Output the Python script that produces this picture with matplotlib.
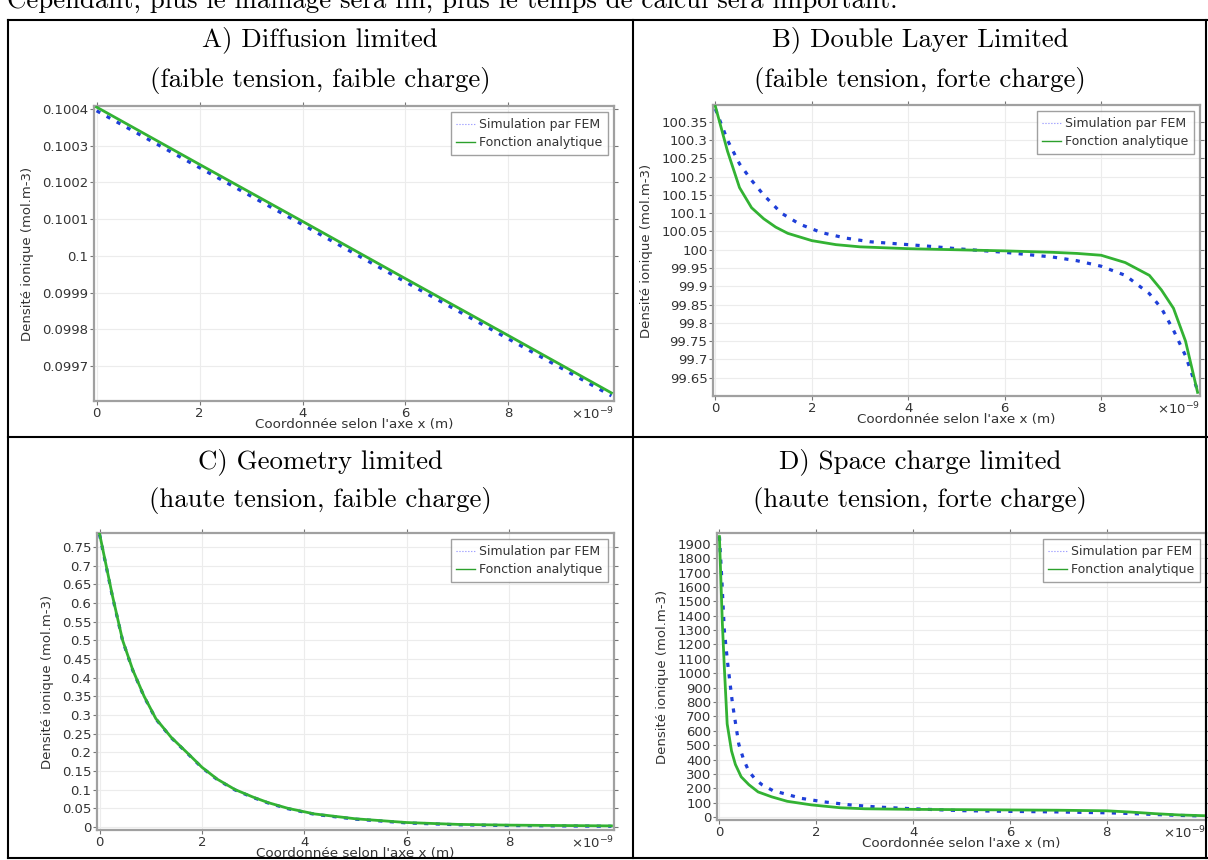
import numpy as np
import matplotlib
matplotlib.use("Agg")
from matplotlib import pyplot as plt
from matplotlib.lines import Line2D

# x in nm (axis shows x10^-9 m)
a_x = [0, 2, 4, 6, 8, 10]
a_sim = [0.100395, 0.100240, 0.100085, 0.099929, 0.099774, 0.099619]
a_ana = [0.100405, 0.100249, 0.100094, 0.099938, 0.099783, 0.099627]

b_x_sim = [0, 0.25, 0.5, 0.75, 1.0, 1.37, 1.75, 2.2, 2.7, 3.2, 4.4, 5, 6, 7, 7.5, 8, 8.5, 9, 9.25, 9.5, 9.75, 10]
b_sim = [100.385, 100.30, 100.235, 100.19, 100.15, 100.10, 100.07, 100.047, 100.032, 100.022, 100.01, 100.003,
         99.993, 99.98, 99.97, 99.955, 99.93, 99.88, 99.84, 99.78, 99.71, 99.615]
b_x_ana = [0, 0.25, 0.5, 0.75, 1.0, 1.25, 1.5, 2.0, 2.5, 3.0, 4, 5, 6, 7, 7.5, 8, 8.5, 9.0, 9.25, 9.5, 9.75, 10]
b_ana = [100.392, 100.27, 100.17, 100.115, 100.085, 100.062, 100.045, 100.025, 100.014, 100.008, 100.003, 100.0,
         99.997, 99.993, 99.99, 99.985, 99.965, 99.93, 99.89, 99.84, 99.75, 99.61]

c_x = [0, 0.25, 0.45, 0.65, 0.87, 1.1, 1.4, 1.74, 2.0, 2.3, 2.65, 3.0, 3.3, 3.68, 4.2, 5, 6, 7, 8, 9, 10]
c_sim = [0.783, 0.618, 0.499, 0.419, 0.349, 0.289, 0.239, 0.194, 0.159, 0.127, 0.099, 0.079, 0.064, 0.049,
         0.034, 0.021, 0.011, 0.006, 0.004, 0.003, 0.002]
c_ana = [0.785, 0.62, 0.5, 0.42, 0.35, 0.29, 0.24, 0.195, 0.16, 0.128, 0.1, 0.08, 0.065, 0.05,
         0.035, 0.022, 0.012, 0.007, 0.005, 0.004, 0.003]

d_x_sim = [0, 0.05, 0.1, 0.17, 0.27, 0.4, 0.5, 0.61, 0.75, 0.88, 1.1, 1.35, 1.7, 2.16, 2.7, 3.27, 4, 5, 6, 7, 8,
           8.5, 9, 9.5, 10]
d_sim = [1950, 1650, 1303, 1070, 789, 507, 400, 317, 260, 225, 185, 162, 130, 106, 85, 70, 58, 45, 40, 36, 30,
         25, 18, 12, 8]
d_x_ana = [0, 0.06, 0.1, 0.16, 0.25, 0.33, 0.45, 0.61, 0.8, 1.08, 1.4, 1.9, 2.5, 3, 4, 5, 6, 7, 8, 8.5, 9, 9.5, 10]
d_ana = [1950, 1352, 1050, 648, 460, 366, 280, 225, 175, 141, 110, 85, 65, 58, 54, 52, 50, 48, 44, 35, 24, 15, 10]

x_ticks = [0, 2, 4, 6, 8]
titles = [("A) Diffusion limited", "(faible tension, faible charge)"),
          ("B) Double Layer Limited", "(faible tension, forte charge)"),
          ("C) Geometry limited", "(haute tension, faible charge)"),
          ("D) Space charge limited", "(haute tension, forte charge)")]
top_line = "Cependant, plus le maillage sera fin, plus le temps de calcul sera important."

W, H = 1208, 860
BLUE = '#1f3fd8'
GREEN = '#33b233'
FRAME = '#a0a0a0'
TXT = '#333333'


def px_axes(fig, left, top, right, bottom):
    return fig.add_axes([left / W, 1 - bottom / H, (right - left) / W, (bottom - top) / H])


def draw_panel(ax, xs, ys, xa, ya, ylim, yticks):
    ax.plot(xs, ys, color=BLUE, lw=2.3, linestyle=(0, (1.3, 2.3)), zorder=3)
    ax.plot(xa, ya, color=GREEN, lw=2.0, zorder=4)
    ax.set_xlim(-0.05, 10.05)
    ax.set_ylim(*ylim)
    ax.set_xticks(x_ticks)
    ax.set_xticklabels([str(t) for t in x_ticks])
    ax.set_yticks(yticks)
    ax.set_yticklabels(['%g' % round(t, 6) for t in yticks])
    ax.grid(True, color='#ececec', lw=0.8)
    ax.set_axisbelow(True)
    for s in ax.spines.values():
        s.set_color(FRAME)
        s.set_linewidth(1.6)
    ax.tick_params(direction='out', length=3, width=0.8, color='#777777', labelsize=9.5,
                   labelcolor=TXT, pad=1, top=True, right=True)
    ax.set_xlabel("Coordonnée selon l'axe x (m)", fontsize=9.7, color=TXT, labelpad=-1)
    ax.set_ylabel("Densité ionique (mol.m-3)", fontsize=9.5, color=TXT, labelpad=6)
    ax.text(1.0, -0.015, r'$\times10^{-9}$', transform=ax.transAxes, ha='right', va='top',
            fontsize=9.5, color=TXT)
    handles = [Line2D([], [], color='#8a8aff', lw=0.8, linestyle=':'),
               Line2D([], [], color='#2ca02c', lw=1.0)]
    leg = ax.legend(handles, ["Simulation par FEM", "Fonction analytique"], loc='upper right',
                    fontsize=9, frameon=True, fancybox=False,
                    handlelength=1.5, handletextpad=0.3,
                    borderaxespad=0.5, borderpad=0.45, labelspacing=0.4)
    leg.get_frame().set_edgecolor('#888888')
    leg.get_frame().set_linewidth(1.0)
    for t in leg.get_texts():
        t.set_color(TXT)


fig = plt.figure(figsize=(W / 100, H / 100), dpi=100)

# table lines
for (x0, y0, x1, y1) in [(8, 20, 1208, 20), (8, 20, 8, 858), (8, 858, 1208, 858), (1206, 20, 1206, 858),
                         (633, 20, 633, 858), (8, 437, 1208, 437)]:
    fig.add_artist(Line2D([x0 / W, x1 / W], [1 - y0 / H, 1 - y1 / H], color='black', lw=1.5))

fig.text(7 / W, 1 - 8 / H, top_line, fontsize=19.3, family='cmr10', va='baseline', ha='left')

centers = [(320, 40, 80), (920, 40, 80), (320, 462, 501), (920, 462, 501)]
for (cx, y1, y2), (t1, t2) in zip(centers, titles):
    fig.text(cx / W, 1 - y1 / H, t1, fontsize=19.3, family='cmr10', ha='center', va='center')
    fig.text(cx / W, 1 - y2 / H, t2, fontsize=19.3, family='cmr10', ha='center', va='center')

ax_a = px_axes(fig, 94, 106, 614, 401)
draw_panel(ax_a, a_x, a_sim, a_x, a_ana, (0.099605, 0.100408),
           [0.0997, 0.0998, 0.0999, 0.1, 0.1001, 0.1002, 0.1003, 0.1004])

ax_b = px_axes(fig, 713, 105, 1200, 396)
draw_panel(ax_b, b_x_sim, b_sim, b_x_ana, b_ana, (99.60, 100.396),
           [99.65, 99.7, 99.75, 99.8, 99.85, 99.9, 99.95, 100, 100.05, 100.1, 100.15, 100.2, 100.25, 100.3, 100.35])

ax_c = px_axes(fig, 97, 533, 614, 830)
draw_panel(ax_c, c_x, c_sim, c_x, c_ana, (-0.008, 0.787),
           [0, 0.05, 0.1, 0.15, 0.2, 0.25, 0.3, 0.35, 0.4, 0.45, 0.5, 0.55, 0.6, 0.65, 0.7, 0.75])

ax_d = px_axes(fig, 717, 533, 1206, 820)
draw_panel(ax_d, d_x_sim, d_sim, d_x_ana, d_ana, (-20, 1975), list(range(0, 2000, 100)))

fig.savefig('out.png', dpi=100)
